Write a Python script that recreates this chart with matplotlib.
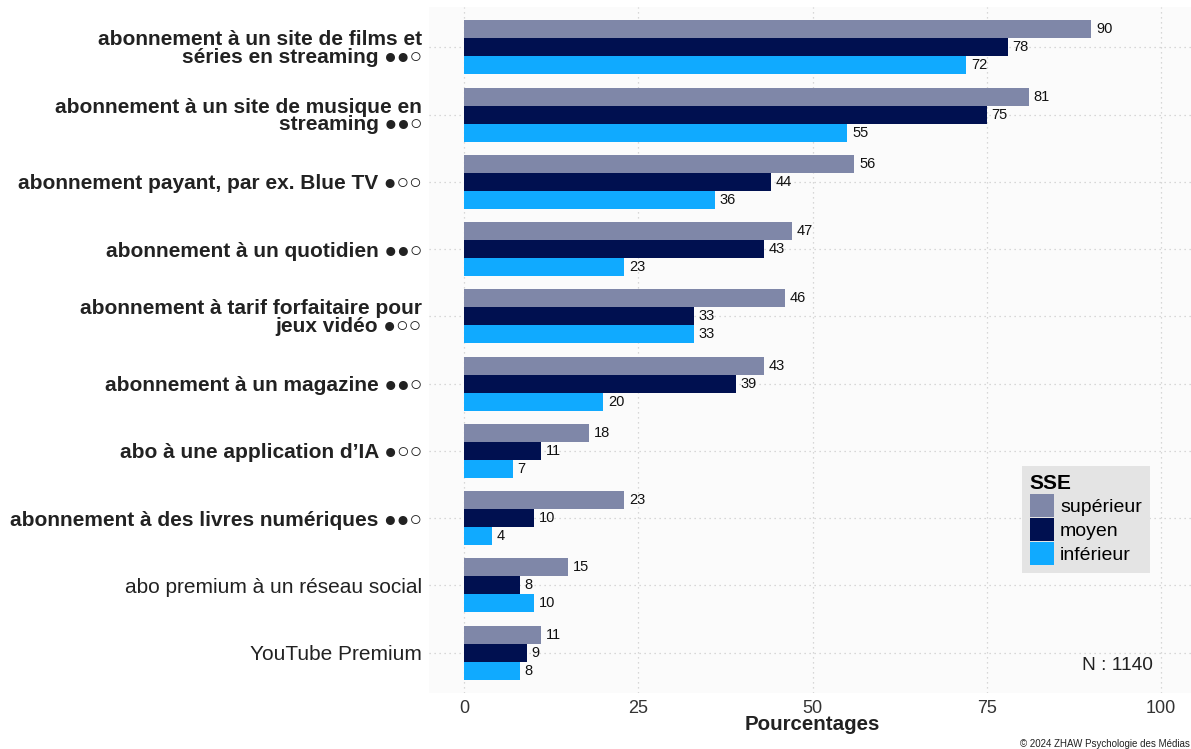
import matplotlib
matplotlib.use("Agg")
import matplotlib.pyplot as plt
import numpy as np
from matplotlib.patches import Patch

plt.rcParams['font.family'] = ['Liberation Sans', 'DejaVu Sans']

categories = [
    "abonnement à un site de films et\nséries en streaming ●●○",
    "abonnement à un site de musique en\nstreaming ●●○",
    "abonnement payant, par ex. Blue TV ●○○",
    "abonnement à un quotidien ●●○",
    "abonnement à tarif forfaitaire pour\njeux vidéo ●○○",
    "abonnement à un magazine ●●○",
    "abo à une application d’IA ●○○",
    "abonnement à des livres numériques ●●○",
    "abo premium à un réseau social",
    "YouTube Premium",
]
bold_labels = [True] * 8 + [False] * 2
superieur = [90, 81, 56, 47, 46, 43, 18, 23, 15, 11]
moyen = [78, 75, 44, 43, 33, 39, 11, 10, 8, 9]
inferieur = [72, 55, 36, 23, 33, 20, 7, 4, 10, 8]
series_names = ["supérieur", "moyen", "inférieur"]
colors = ["#7F87A8", "#001050", "#10AAFF"]
x_ticks = [0, 25, 50, 75, 100]

fig = plt.figure(figsize=(11.91, 7.49), dpi=100)
ax = fig.add_axes([429 / 1191, 1 - 693 / 749, 767 / 1191, 686 / 749])
ax.set_facecolor("#FBFBFB")

n = len(categories)
ypos = np.arange(n)
h = 0.8 / 3
for k, vals in enumerate([superieur, moyen, inferieur]):
    yy = ypos + (k - 1) * h
    ax.barh(yy, vals, height=h, color=colors[k], zorder=2)
    for y, v in zip(yy, vals):
        ax.text(v + 0.7, y, str(v), va="center", ha="left", fontsize=10.5,
                color="#111111", zorder=3)

ax.set_ylim(n - 0.4, -0.6)
ax.set_xlim(-5, 105)
ax.set_yticks(ypos)
ax.set_yticklabels(categories)
for lab, b in zip(ax.get_yticklabels(), bold_labels):
    lab.set_fontweight("bold" if b else "normal")
    lab.set_fontsize(15)
    lab.set_color("#222222")
    lab.set_linespacing(0.92)
ax.set_xticks(x_ticks)
ax.set_xticklabels([str(t) for t in x_ticks])
ax.tick_params(axis="x", labelsize=13, labelcolor="#333333", length=0, pad=5)
ax.tick_params(axis="y", length=0, pad=5)
ax.grid(True, color="#CCCCCC", linestyle=(0, (1, 3)), linewidth=0.9, zorder=0)
for s in ax.spines.values():
    s.set_visible(False)

fig.text(812 / 1191, 1 - 725 / 749, "Pourcentages", ha="center", va="center",
         fontsize=14.8, fontweight="bold", color="#222222")
ax.text((1153 - 429) / 767, (693 - 665) / 686, "N : 1140", transform=ax.transAxes,
        ha="right", va="center", fontsize=13.8, color="#222222")
fig.text(1020 / 1191, 1 - 744 / 749, "© 2024 ZHAW Psychologie des Médias",
         ha="left", va="center", fontsize=7, color="#222222")

handles = [Patch(facecolor=c, edgecolor="none") for c in colors]
leg = ax.legend(handles, series_names, title="SSE", loc="upper left",
                bbox_to_anchor=((1022 - 429) / 767, (693 - 466) / 686),
                fontsize=14, title_fontproperties={"weight": "bold", "size": 15},
                frameon=True, fancybox=False, facecolor="#E4E4E4", edgecolor="none",
                framealpha=1, handlelength=1.25, handleheight=1.45, handletextpad=0.3,
                labelspacing=0.05, borderpad=0.4, borderaxespad=0)
leg._legend_box.align = "left"

fig.savefig("out.png", dpi=100)
